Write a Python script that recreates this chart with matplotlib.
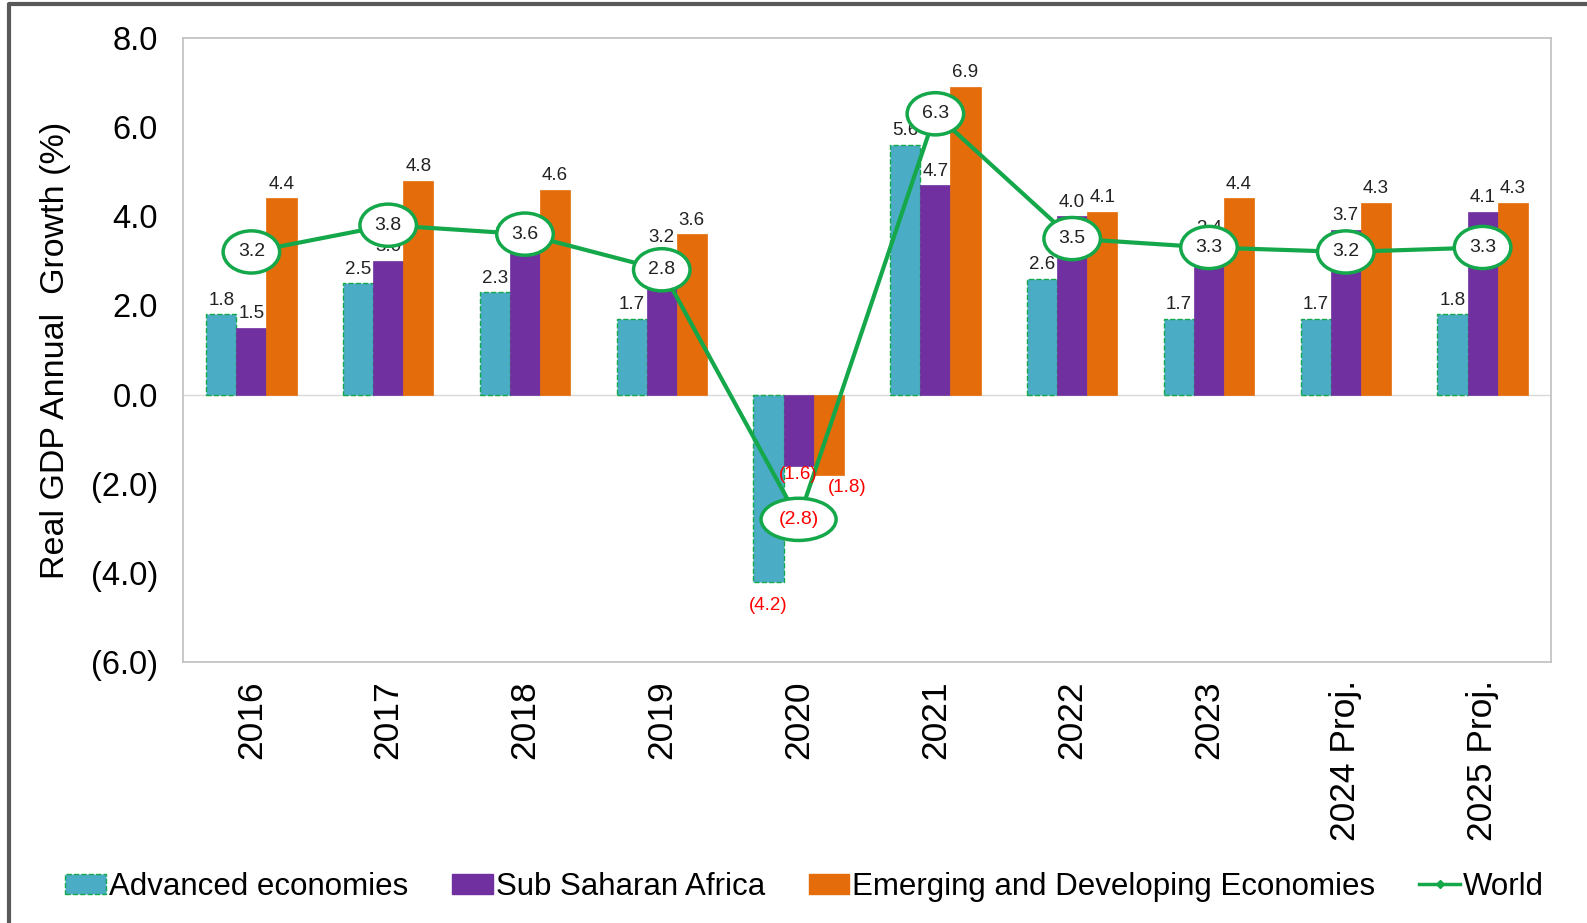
import matplotlib
matplotlib.use("Agg")
import matplotlib.pyplot as plt
import numpy as np
from matplotlib.lines import Line2D
from matplotlib.patches import Patch

years = ["2016", "2017", "2018", "2019", "2020", "2021", "2022", "2023",
         "2024 Proj.", "2025 Proj."]
advanced = [1.8, 2.5, 2.3, 1.7, -4.2, 5.6, 2.6, 1.7, 1.7, 1.8]
ssa = [1.5, 3.0, 3.3, 3.2, -1.6, 4.7, 4.0, 3.4, 3.7, 4.1]
emde = [4.4, 4.8, 4.6, 3.6, -1.8, 6.9, 4.1, 4.4, 4.3, 4.3]
world = [3.2, 3.8, 3.6, 2.8, -2.8, 6.3, 3.5, 3.3, 3.2, 3.3]
yticks = [-6, -4, -2, 0, 2, 4, 6, 8]

TEAL = "#4BACC6"
PURPLE = "#7030A0"
ORANGE = "#E46C0A"
GREEN = "#14A84B"

plt.rcParams["font.family"] = ["Liberation Sans", "DejaVu Sans"]


def fmt(v):
    return f"({abs(v):.1f})" if v < 0 else f"{v:.1f}"


fig = plt.figure(figsize=(15.87, 9.23), dpi=100)
ax = fig.add_axes([0.1153, 0.2828, 0.862, 0.676])

x = np.arange(len(years))
w = 0.22
# (values, bar offset, negative-label offset in points, bar style)
series = [
    (advanced, -w, (0, -11), dict(color=TEAL, edgecolor=GREEN, linestyle="--", linewidth=1.0)),
    (ssa, 0.0, (0, 0), dict(color=PURPLE, edgecolor=PURPLE, linewidth=0.5)),
    (emde, w, (13, -3), dict(color=ORANGE, edgecolor=ORANGE, linewidth=0.5)),
]
for vals, off, neg_off, style in series:
    bars = ax.bar(x + off, vals, width=w, zorder=2, **style)
    for b, v in zip(bars, vals):
        cx = b.get_x() + b.get_width() / 2
        if v >= 0:
            ax.annotate(fmt(v), (cx, v), xytext=(0, 4), textcoords="offset points",
                        ha="center", va="bottom", fontsize=13.5, color="#222222",
                        zorder=5)
        else:
            ax.annotate(fmt(v), (cx, v), xytext=neg_off, textcoords="offset points",
                        ha="center", va="top", fontsize=13.5, color="#FF0000",
                        zorder=5)

ax.plot(x, world, color=GREEN, linewidth=3, zorder=3)
for xi, v in zip(x, world):
    ax.annotate(fmt(v), (xi, v), ha="center", va="center", fontsize=14,
                color="#FF0000" if v < 0 else "#222222", zorder=6,
                bbox=dict(boxstyle="ellipse,pad=0.33", fc="white", ec=GREEN, lw=2.5))

ax.axhline(0, color="#D9D9D9", linewidth=1, zorder=1)
ax.set_xlim(-0.5, len(years) - 0.5)
ax.set_ylim(-6, 8)
ax.set_yticks(yticks)
ax.set_yticklabels([fmt(t) for t in yticks], fontsize=23.5)
ax.set_xticks(x)
ax.set_xticklabels(years, rotation=90, fontsize=25.5, va="top")
ax.tick_params(axis="both", length=0)
ax.tick_params(axis="y", pad=18)
ax.tick_params(axis="x", pad=13)
for s in ax.spines.values():
    s.set_color("#BFBFBF")
    s.set_linewidth(1.2)

ax.set_ylabel("Real GDP Annual  Growth (%)", fontsize=24.5)
ax.yaxis.set_label_coords(-0.082, 0.5)

handles = [
    Patch(facecolor=TEAL, edgecolor=GREEN, linestyle="--", linewidth=1.0),
    Patch(facecolor=PURPLE, edgecolor=PURPLE),
    Patch(facecolor=ORANGE, edgecolor=ORANGE),
    Line2D([], [], color=GREEN, linewidth=2.5, marker="D", markersize=4),
]
labels = ["Advanced economies", "Sub Saharan Africa",
          "Emerging and Developing Economies", "World"]
fig.legend(handles, labels, loc="center", bbox_to_anchor=(0.507, 0.039), ncol=4,
           frameon=False, fontsize=22.5, handlelength=1.3, handleheight=0.65,
           handletextpad=0.1, columnspacing=1.4)

# outer frame on left and top
fx = 9 / 1587
fy = 1 - 4 / 923
fig.add_artist(Line2D([fx, fx, 1], [0, fy, fy], transform=fig.transFigure,
                      color="#595959", linewidth=3))

fig.savefig("out.png", dpi=100)
